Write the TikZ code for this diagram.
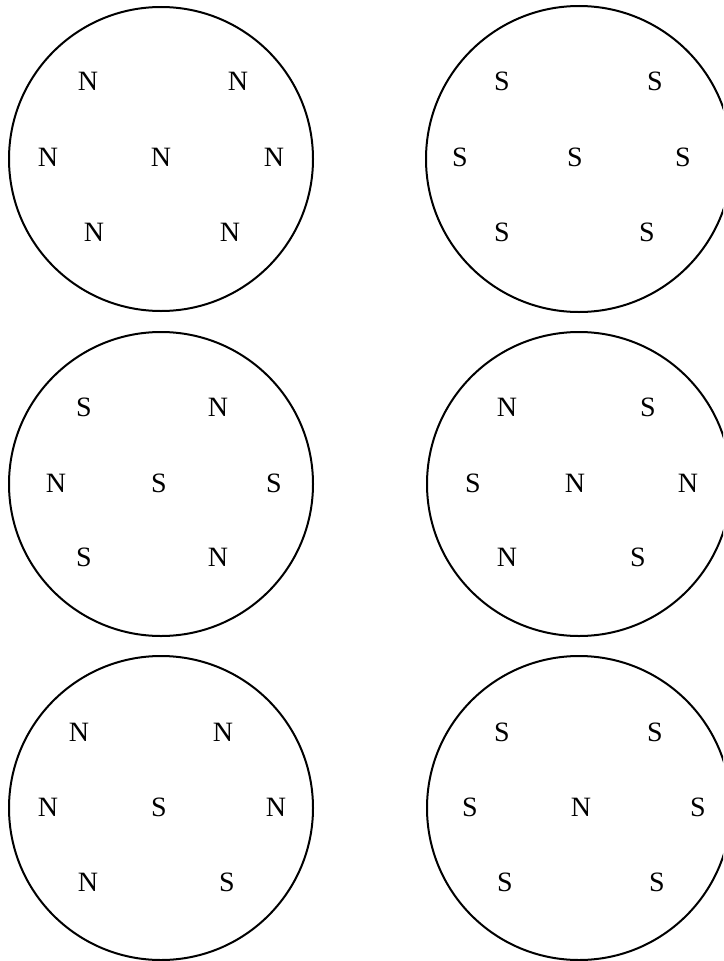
\documentclass[tikz,border=0pt]{standalone}
\usepackage{fontspec}
\setmainfont{Liberation Serif}
\begin{document}
\begin{tikzpicture}[x=1pt, y=-1pt, line width=2pt,
    pole/.style={inner sep=0pt, font=\fontsize{28}{30}\selectfont}]
  \useasboundingbox (0,0) rectangle (723,961);
  \clip (0,0) rectangle (723,961);

  % 1. six circles
  \draw (161,159) circle (152pt);
  \draw (579,159) circle (153pt);
  \draw (161,484) circle (152pt);
  \draw (579,484) circle (152pt);
  \draw (161,808) circle (152pt);
  \draw (579,808) circle (152pt);

  % 2. top row
  \node[pole] (a1) at (88,81) {N};
  \node[pole] (a2) at (238,81) {N};
  \node[pole] (a3) at (48,157) {N};
  \node[pole] (a4) at (161,157) {N};
  \node[pole] (a5) at (274,157) {N};
  \node[pole] (a6) at (94,232) {N};
  \node[pole] (a7) at (230,232) {N};

  \node[pole] (b1) at (502,81) {S};
  \node[pole] (b2) at (655,81) {S};
  \node[pole] (b3) at (460,157) {S};
  \node[pole] (b4) at (575,157) {S};
  \node[pole] (b5) at (683,157) {S};
  \node[pole] (b6) at (502,232) {S};
  \node[pole] (b7) at (647,232) {S};

  % 3. middle row
  \node[pole] (c1) at (84,407) {S};
  \node[pole] (c2) at (218,407) {N};
  \node[pole] (c3) at (56,483) {N};
  \node[pole] (c4) at (159,483) {S};
  \node[pole] (c5) at (274,483) {S};
  \node[pole] (c6) at (84,557) {S};
  \node[pole] (c7) at (218,557) {N};

  \node[pole] (d1) at (507,407) {N};
  \node[pole] (d2) at (648,407) {S};
  \node[pole] (d3) at (473,483) {S};
  \node[pole] (d4) at (575,483) {N};
  \node[pole] (d5) at (688,483) {N};
  \node[pole] (d6) at (507,557) {N};
  \node[pole] (d7) at (638,557) {S};

  % 4. bottom row
  \node[pole] (e1) at (79,732) {N};
  \node[pole] (e2) at (223,732) {N};
  \node[pole] (e3) at (48,807) {N};
  \node[pole] (e4) at (159,807) {S};
  \node[pole] (e5) at (276,807) {N};
  \node[pole] (e6) at (88,882) {N};
  \node[pole] (e7) at (227,882) {S};

  \node[pole] (f1) at (502,732) {S};
  \node[pole] (f2) at (655,732) {S};
  \node[pole] (f3) at (470,807) {S};
  \node[pole] (f4) at (581,807) {N};
  \node[pole] (f5) at (698,807) {S};
  \node[pole] (f6) at (505,882) {S};
  \node[pole] (f7) at (657,882) {S};
\end{tikzpicture}
\end{document}
